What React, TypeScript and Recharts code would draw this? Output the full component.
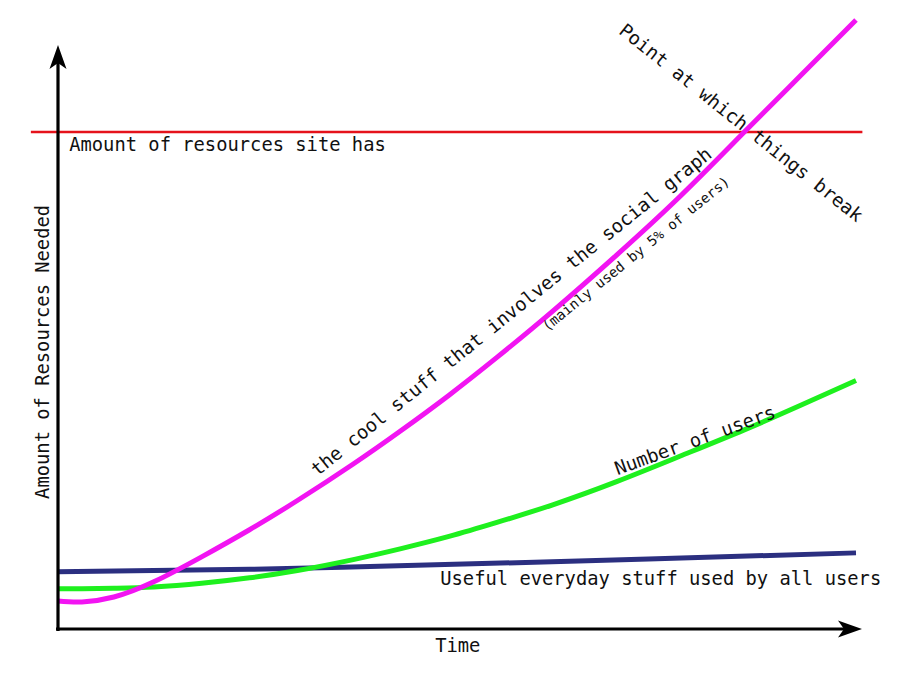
import { LineChart, Line, XAxis, YAxis, ReferenceLine, ReferenceDot } from 'recharts'

// time runs 0..100, resources 0..100 (arbitrary units)
const timeSteps = [0, 3, 7, 12, 18, 24, 30, 37, 43, 49, 55, 62, 70, 78, 86, 93, 100]
const socialGraphLoad = [4.6, 4.45, 5.25, 7.75, 11.85, 16.3, 21.1, 27.1, 32.6, 38.4, 44.6, 52.2, 61.4, 71.1, 81.6, 90.8, 100]
const userCount = [6.6, 6.6, 6.7, 6.9, 7.5, 8.4, 9.6, 11.4, 13.2, 15.2, 17.5, 20.4, 24.2, 28.4, 32.7, 36.7, 40.8]
const everydayTime = [0, 24, 52, 74, 100]
const everydayLoad = [9.4, 9.8, 10.7, 11.5, 12.5]
const siteCapacity = 81.6

const socialData = timeSteps.map((t, i) => ({ t, v: socialGraphLoad[i] }))
const userData = timeSteps.map((t, i) => ({ t, v: userCount[i] }))
const everydayData = everydayTime.map((t, i) => ({ t, v: everydayLoad[i] }))

const FONT = "'DejaVu Sans Mono', monospace"

// annotations placed in data coordinates
const notes = [
  { text: 'the cool stuff that involves the social graph', t: 57.3, v: 51.3, angle: -39, size: 18.8, anchor: 'middle' },
  { text: '(mainly used by 5% of users)', t: 72.8, v: 61.0, angle: -39, size: 14, anchor: 'middle' },
  { text: 'Point at which things break', t: 85.1, v: 82.3, angle: 38.5, size: 18.8, anchor: 'middle' },
  { text: 'Number of users', t: 80.1, v: 30.0, angle: -20, size: 18.8, anchor: 'middle' },
  { text: 'Amount of resources site has', t: 1.4, v: 78.5, angle: 0, size: 18.8, anchor: 'start' },
  { text: 'Useful everyday stuff used by all users', t: 47.9, v: 7.2, angle: 0, size: 18.8, anchor: 'start' },
  { text: 'Time', t: 50.1, v: -3.8, angle: 0, size: 18.8, anchor: 'middle' },
  { text: 'Amount of Resources Needed', t: -1.1, v: 45.5, angle: -90, size: 18.8, anchor: 'middle' },
]

function ArrowAxis(props: any) {
  const { x1, y1, x2, y2 } = props
  const dx = x2 - x1
  const dy = y2 - y1
  const len = Math.hypot(dx, dy)
  const ux = dx / len
  const uy = dy / len
  const px = -uy
  const py = ux
  const headLen = 24
  const headHalf = 8.5
  const notch = 18
  const bx = x2 - ux * headLen
  const by = y2 - uy * headLen
  const nx = x2 - ux * notch
  const ny = y2 - uy * notch
  return (
    <g>
      <line x1={x1} y1={y1} x2={nx} y2={ny} stroke="#000" strokeWidth={3.2} />
      <path
        d={`M${x2},${y2} L${bx + px * headHalf},${by + py * headHalf} L${nx},${ny} L${bx - px * headHalf},${by - py * headHalf} Z`}
        fill="#000"
      />
    </g>
  )
}

const noteShape = (n: (typeof notes)[number]) => (props: any) => (
  <text
    x={props.cx}
    y={props.cy}
    transform={`rotate(${n.angle}, ${props.cx}, ${props.cy})`}
    textAnchor={n.anchor as any}
    fontFamily={FONT}
    fontSize={n.size}
    fill="#111"
  >
    {n.text}
  </text>
)

export default function App() {
  return (
    <div style={{ position: 'absolute', left: 0, top: 0, background: '#fff' }}>
      <LineChart width={900} height={675} margin={{ top: 20, right: 44, bottom: 46, left: 58 }}>
        <XAxis type="number" dataKey="t" domain={[0, 100]} hide />
        <YAxis type="number" dataKey="v" domain={[0, 100]} hide />

        <ReferenceLine
          segment={[{ x: -3.4, y: siteCapacity }, { x: 100.8, y: siteCapacity }]}
          stroke="#e5121b"
          strokeWidth={2.5}
          ifOverflow="visible"
        />

        <Line data={everydayData} dataKey="v" type="natural" stroke="#2b2f80" strokeWidth={5} dot={false} isAnimationActive={false} />
        <Line data={userData} dataKey="v" type="natural" stroke="#1ef01e" strokeWidth={5} dot={false} isAnimationActive={false} />
        <Line data={socialData} dataKey="v" type="natural" stroke="#f214f2" strokeWidth={5} dot={false} isAnimationActive={false} />

        {/* axes with arrow heads */}
        <ReferenceLine segment={[{ x: 0, y: -0.33 }, { x: 0, y: 95.9 }]} ifOverflow="visible" shape={ArrowAxis} />
        <ReferenceLine segment={[{ x: -0.25, y: 0 }, { x: 100.75, y: 0 }]} ifOverflow="visible" shape={ArrowAxis} />

        {notes.map((n) => (
          <ReferenceDot key={n.text} x={n.t} y={n.v} r={0} ifOverflow="visible" shape={noteShape(n)} />
        ))}
      </LineChart>
    </div>
  )
}
